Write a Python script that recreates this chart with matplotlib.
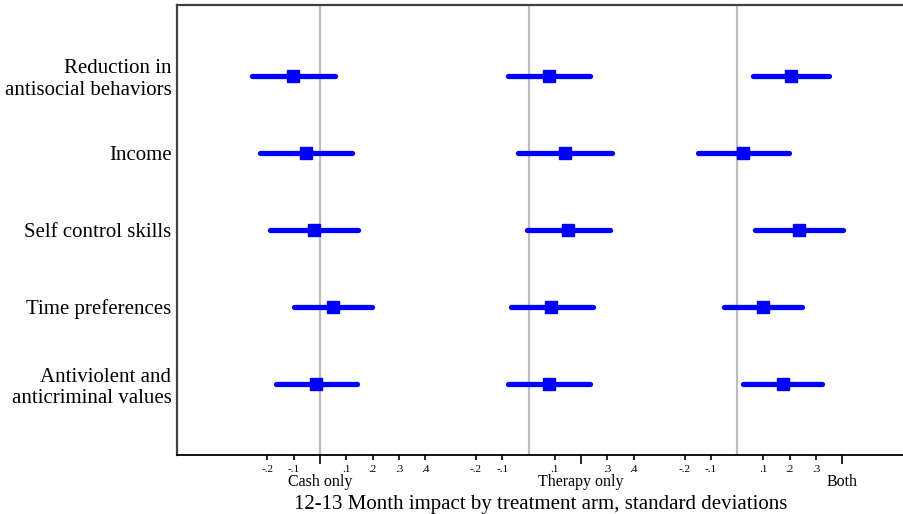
import matplotlib
matplotlib.use("Agg")
import matplotlib.pyplot as plt

plt.rcParams['font.family'] = ['Liberation Serif', 'DejaVu Serif']

# outcomes, top to bottom
outcomes = ["Reduction in\nantisocial behaviors", "Income", "Self control skills",
            "Time preferences", "Antiviolent and\nanticriminal values"]
arms = ["Cash only", "Therapy only", "Both"]

# point estimates and 95% CI bounds (standard deviations)
cash_est = [-0.101, -0.052, -0.023, 0.051, -0.014]
cash_lo = [-0.260, -0.227, -0.189, -0.100, -0.167]
cash_hi = [0.058, 0.122, 0.143, 0.198, 0.139]

therapy_est = [0.077, 0.138, 0.151, 0.087, 0.076]
therapy_lo = [-0.077, -0.040, -0.006, -0.068, -0.077]
therapy_hi = [0.234, 0.318, 0.310, 0.245, 0.233]

both_est = [0.206, 0.024, 0.235, 0.099, 0.174]
both_lo = [0.061, -0.147, 0.068, -0.049, 0.023]
both_hi = [0.349, 0.197, 0.402, 0.248, 0.324]

tick_vals = [-0.2, -0.1, 0.1, 0.2, 0.3, 0.4]
tick_text = ["-.2", "-.1", ".1", ".2", ".3", ".4"]
arm_label_at = [0.0, 0.2, 0.4]  # where each arm name sits on its own scale

offset = 0.793
fig = plt.figure(figsize=(9.04, 5.14), dpi=100)
ax = fig.add_axes([177 / 904, 1 - 455 / 514, 1 - 177 / 904, 450 / 514])

ypos = [5, 4, 3, 2, 1]
series = [(cash_est, cash_lo, cash_hi), (therapy_est, therapy_lo, therapy_hi),
          (both_est, both_lo, both_hi)]

major_pos, minor_pos, minor_lab = [], [], []
for i, (est, lo, hi) in enumerate(series):
    off = i * offset
    ax.axvline(off, color='#bdbdbd', lw=1.6, zorder=1)
    for y, e, l, h in zip(ypos, est, lo, hi):
        ax.plot([off + l, off + h], [y, y], color='#0000ff', lw=3.8,
                solid_capstyle='round', zorder=2)
        ax.plot(off + e, y, marker='s', color='#0000ff', ms=9, zorder=3)
    major_pos.append(off + arm_label_at[i])
    for v, t in zip(tick_vals, tick_text):
        if abs(v - arm_label_at[i]) > 1e-9:
            minor_pos.append(off + v)
            minor_lab.append(t)

ax.set_xlim((177 - 320) / 263, (904 - 320) / 263)
ax.set_ylim(0.078, 5.922)

ax.set_xticks(major_pos)
ax.set_xticklabels(arms, fontsize=11.5)
ax.set_xticks(minor_pos, minor=True)
ax.set_xticklabels(minor_lab, minor=True, fontsize=8)
ax.tick_params(axis='x', which='major', length=6.5, width=1.2, pad=7.5)
ax.tick_params(axis='x', which='minor', length=3.6, width=1.2, pad=3.5)

ax.set_yticks(ypos)
ax.set_yticklabels(outcomes, fontsize=15, linespacing=1.17)
ax.tick_params(axis='y', length=0, pad=4)

ax.set_xlabel("12-13 Month impact by treatment arm, standard deviations",
              fontsize=15, labelpad=3.5)

ax.spines['right'].set_visible(False)
ax.spines['top'].set_color('#404040')
ax.spines['left'].set_color('#404040')
ax.spines['top'].set_linewidth(1.6)
ax.spines['left'].set_linewidth(1.6)
ax.spines['bottom'].set_linewidth(1.3)

fig.savefig("out.png", dpi=100)
